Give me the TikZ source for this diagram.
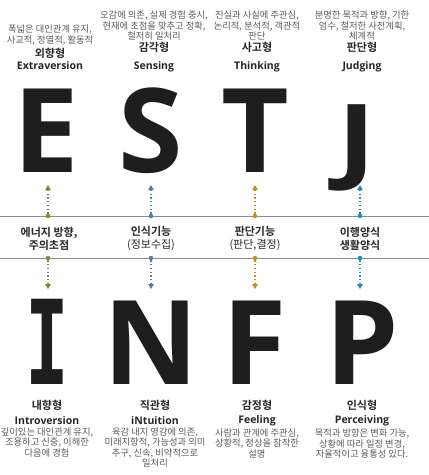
\documentclass[tikz,border=0pt]{standalone}
\usepackage{fontspec}
\usepackage{graphicx}
\usepackage{xcolor}
\usetikzlibrary{positioning, arrows.meta}
\setmainfont{Noto Sans CJK KR}[BoldFont={Noto Sans CJK KR Bold}]
\newfontfamily\latinfont{Open Sans}
\newfontfamily\slabfont{DejaVu Sans Mono}
\definecolor{eGreen}{HTML}{7B8B2B}
\definecolor{sBlue}{HTML}{4F7BA8}
\definecolor{tOrange}{HTML}{C98A1E}
\definecolor{jCyan}{HTML}{1C8BBF}
\definecolor{lineGray}{HTML}{8C8C8C}
\definecolor{letterBlack}{HTML}{1E1E1E}
\definecolor{textDark}{HTML}{262626}
\definecolor{textGray}{HTML}{5A5A5A}

\begin{document}
\begin{tikzpicture}[x=1pt, y=-1pt,
  letter/.style={inner sep=0pt, anchor=base, text depth=0pt, text=letterBlack, font=\latinfont\bfseries\fontsize{117}{117}\selectfont},
  kname/.style={inner sep=0pt, font=\bfseries\fontsize{11}{13}\selectfont, text=textDark},
  ename/.style={inner sep=0pt, font=\latinfont\bfseries\fontsize{10.5}{12}\selectfont, text=textDark},
  desc/.style={inner sep=0pt, align=center, font=\fontsize{9.3}{10.6}\selectfont, text=textGray},
  midtext/.style={inner sep=0pt, align=center, font=\fontsize{11}{13}\selectfont, text=textDark},
  sepline/.style={draw=lineGray, line width=0.9pt},
  dotmark/.style={circle, inner sep=0pt, minimum size=4.5pt},
  arr/.style={dash pattern=on 1.3pt off 2.4pt, line width=1.3pt, -{Triangle[width=5.5pt,length=5pt]}}
]
\useasboundingbox (0,0) rectangle (429,475);

% upper letters
\node[letter] (letE) at (46,172) {E};
\node[letter] (letS) at (151,172) {S};
\node[letter] (letT) at (255,172) {T};
\node[letter, anchor=south] (letJ) at (357,172) {\scalebox{1}[0.8]{J}};

\node[kname] (korE) at (50,53) {외향형};
\node[kname] (korS) at (154,47) {감각형};
\node[kname] (korT) at (257,47) {사고형};
\node[kname] (korJ) at (362,47) {판단형};

\node[desc, above=2.5pt of korE] (descE) {폭넓은 대인관계 유지,\\사교적, 정열적, 활동적};
\node[desc, above=1pt of korS] (descS) {오감에 의존, 실제 경험 중시,\\현재에 초점을 맞추고 정확,\\철저히 일처리};
\node[desc, above=1pt of korT] (descT) {진실과 사실에 주관심,\\논리적, 분석적, 객관적\\판단};
\node[desc, above=1pt of korJ] (descJ) {분명한 목적과 방향, 기한\\엄수, 철저한 사전계획,\\체계적};

\node[ename] (engE) at (50,66) {Extraversion};
\node[ename] (engS) at (154,67) {Sensing};
\node[ename] (engT) at (257,67) {Thinking};
\node[ename] (engJ) at (362,67) {Judging};

% middle band
\coordinate (topL) at (0,216);
\coordinate (topR) at (429,216);
\coordinate (botL) at (0,258);
\coordinate (botR) at (429,258);
\draw[sepline] (topL) -- (topR);
\draw[sepline] (botL) -- (botR);

\node[midtext] (midE) at (49,238.5) {\bfseries 에너지 방향,\\\bfseries 주의초점};
\node[midtext] (midS) at (151,238.5) {\bfseries 인식기능\\(정보수집)};
\node[midtext] (midT) at (255,238.5) {\bfseries 판단기능\\(판단,결정)};
\node[midtext] (midJ) at (360,238.5) {\bfseries 이행양식\\\bfseries 생활양식};

\node[dotmark, fill=eGreen] (dotEu) at (48,216) {};
\node[dotmark, fill=sBlue] (dotSu) at (151,216) {};
\node[dotmark, fill=tOrange] (dotTu) at (255,216) {};
\node[dotmark, fill=jCyan] (dotJu) at (360,216) {};
\node[dotmark, fill=eGreen] (dotEd) at (48,258) {};
\node[dotmark, fill=sBlue] (dotSd) at (151,258) {};
\node[dotmark, fill=tOrange] (dotTd) at (255,258) {};
\node[dotmark, fill=jCyan] (dotJd) at (360,258) {};

\coordinate (tipEu) at (48,185);
\coordinate (tipSu) at (151,185);
\coordinate (tipTu) at (255,185);
\coordinate (tipJu) at (360,185);
\coordinate (tipEd) at (48,289);
\coordinate (tipSd) at (151,289);
\coordinate (tipTd) at (255,289);
\coordinate (tipJd) at (360,289);

\draw[arr, eGreen] (dotEu) -- (tipEu);
\draw[arr, sBlue] (dotSu) -- (tipSu);
\draw[arr, tOrange] (dotTu) -- (tipTu);
\draw[arr, jCyan] (dotJu) -- (tipJu);
\draw[arr, eGreen] (dotEd) -- (tipEd);
\draw[arr, sBlue] (dotSd) -- (tipSd);
\draw[arr, tOrange] (dotTd) -- (tipTd);
\draw[arr, jCyan] (dotJd) -- (tipJd);

% lower letters
\node[letter] (letI) at (47,384) {\slabfont\bfseries\scalebox{0.62}[1]{I}};
\node[letter] (letN) at (151,384) {N};
\node[letter] (letF) at (255,384) {F};
\node[letter] (letP) at (362,384) {P};

\node[kname] (korI) at (47,405) {내향형};
\node[kname] (korN) at (155,405) {직관형};
\node[kname] (korF) at (257,405) {감정형};
\node[kname] (korP) at (362,405) {인식형};

\node[ename] (engI) at (47,421) {Introversion};
\node[ename] (engN) at (155,421) {iNtuition};
\node[ename] (engF) at (257,421) {Feeling};
\node[ename] (engP) at (362,421) {Perceiving};

\node[desc, below=2pt of engI] (descI) {깊이있는 대인관계 유지,\\조용하고 신중, 이해한\\다음에 경험};
\node[desc, below=2pt of engN] (descN) {육감 내지 영감에 의존,\\미래지향적, 가능성과 의미\\추구, 신속, 비약적으로\\일처리};
\node[desc, below=2pt of engF] (descF) {사람과 관계에 주관심,\\상황적, 정상을 참작한\\설명};
\node[desc, below=2pt of engP] (descP) {목적과 방향은 변화 가능,\\상황에 따라 일정 변경,\\자율적이고 융통성 있다.};

\end{tikzpicture}
\end{document}
